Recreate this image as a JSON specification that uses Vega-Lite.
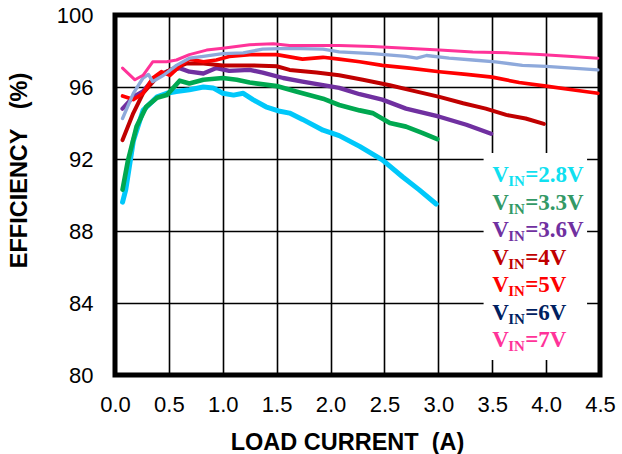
{
  "$schema": "https://vega.github.io/schema/vega-lite/v6.json",
  "width": 485,
  "height": 360,
  "autosize": "none",
  "padding": {"left": 115, "top": 15, "right": 22, "bottom": 79},
  "background": "white",
  "config": {
    "view": {"stroke": "black", "strokeWidth": 5},
    "axis": {
      "labelFont": "Liberation Sans",
      "labelFontSize": 22,
      "labelColor": "black",
      "ticks": false,
      "domain": false,
      "grid": true,
      "gridColor": "black",
      "gridWidth": 1.6,
      "gridOpacity": 1,
      "titleFont": "Liberation Sans",
      "titleFontWeight": "bold",
      "titleFontSize": 23.5,
      "titleColor": "black"
    }
  },
  "datasets": {
    "curves": [
      {"series": "2.8V", "current": 0.07, "eff": 89.6},
      {"series": "2.8V", "current": 0.10, "eff": 90.3},
      {"series": "2.8V", "current": 0.17, "eff": 93.0},
      {"series": "2.8V", "current": 0.26, "eff": 94.7},
      {"series": "2.8V", "current": 0.39, "eff": 95.45},
      {"series": "2.8V", "current": 0.48, "eff": 95.65},
      {"series": "2.8V", "current": 0.57, "eff": 95.75},
      {"series": "2.8V", "current": 0.69, "eff": 95.85},
      {"series": "2.8V", "current": 0.82, "eff": 96.0},
      {"series": "2.8V", "current": 0.91, "eff": 95.95},
      {"series": "2.8V", "current": 1.0, "eff": 95.65},
      {"series": "2.8V", "current": 1.1, "eff": 95.55},
      {"series": "2.8V", "current": 1.19, "eff": 95.65},
      {"series": "2.8V", "current": 1.28, "eff": 95.3},
      {"series": "2.8V", "current": 1.4, "eff": 94.9},
      {"series": "2.8V", "current": 1.53, "eff": 94.65},
      {"series": "2.8V", "current": 1.62, "eff": 94.55},
      {"series": "2.8V", "current": 1.74, "eff": 94.2},
      {"series": "2.8V", "current": 1.93, "eff": 93.6},
      {"series": "2.8V", "current": 2.08, "eff": 93.3},
      {"series": "2.8V", "current": 2.27, "eff": 92.7},
      {"series": "2.8V", "current": 2.48, "eff": 91.95},
      {"series": "2.8V", "current": 2.67, "eff": 91.0},
      {"series": "2.8V", "current": 2.82, "eff": 90.3},
      {"series": "2.8V", "current": 2.98, "eff": 89.5},

      {"series": "3.3V", "current": 0.07, "eff": 90.3},
      {"series": "3.3V", "current": 0.12, "eff": 91.9},
      {"series": "3.3V", "current": 0.2, "eff": 93.8},
      {"series": "3.3V", "current": 0.29, "eff": 94.9},
      {"series": "3.3V", "current": 0.39, "eff": 95.4},
      {"series": "3.3V", "current": 0.48, "eff": 95.55},
      {"series": "3.3V", "current": 0.6, "eff": 96.35},
      {"series": "3.3V", "current": 0.69, "eff": 96.2},
      {"series": "3.3V", "current": 0.82, "eff": 96.4},
      {"series": "3.3V", "current": 1.0, "eff": 96.5},
      {"series": "3.3V", "current": 1.13, "eff": 96.4},
      {"series": "3.3V", "current": 1.25, "eff": 96.25},
      {"series": "3.3V", "current": 1.5, "eff": 96.05},
      {"series": "3.3V", "current": 1.68, "eff": 95.75},
      {"series": "3.3V", "current": 1.93, "eff": 95.35},
      {"series": "3.3V", "current": 2.08, "eff": 95.0},
      {"series": "3.3V", "current": 2.27, "eff": 94.7},
      {"series": "3.3V", "current": 2.39, "eff": 94.55},
      {"series": "3.3V", "current": 2.55, "eff": 94.0},
      {"series": "3.3V", "current": 2.7, "eff": 93.8},
      {"series": "3.3V", "current": 2.85, "eff": 93.45},
      {"series": "3.3V", "current": 2.99, "eff": 93.1},

      {"series": "3.6V", "current": 0.07, "eff": 94.8},
      {"series": "3.6V", "current": 0.17, "eff": 95.45},
      {"series": "3.6V", "current": 0.26, "eff": 95.75},
      {"series": "3.6V", "current": 0.35, "eff": 96.4},
      {"series": "3.6V", "current": 0.48, "eff": 96.85},
      {"series": "3.6V", "current": 0.6, "eff": 97.05},
      {"series": "3.6V", "current": 0.69, "eff": 96.85},
      {"series": "3.6V", "current": 0.82, "eff": 96.75},
      {"series": "3.6V", "current": 0.94, "eff": 97.05},
      {"series": "3.6V", "current": 1.06, "eff": 96.9},
      {"series": "3.6V", "current": 1.25, "eff": 96.95},
      {"series": "3.6V", "current": 1.37, "eff": 96.8},
      {"series": "3.6V", "current": 1.56, "eff": 96.5},
      {"series": "3.6V", "current": 1.74, "eff": 96.3},
      {"series": "3.6V", "current": 1.93, "eff": 96.1},
      {"series": "3.6V", "current": 2.08, "eff": 95.95},
      {"series": "3.6V", "current": 2.27, "eff": 95.6},
      {"series": "3.6V", "current": 2.48, "eff": 95.3},
      {"series": "3.6V", "current": 2.7, "eff": 94.8},
      {"series": "3.6V", "current": 3.01, "eff": 94.35},
      {"series": "3.6V", "current": 3.26, "eff": 93.9},
      {"series": "3.6V", "current": 3.49, "eff": 93.4},

      {"series": "4V", "current": 0.07, "eff": 93.05},
      {"series": "4V", "current": 0.17, "eff": 94.55},
      {"series": "4V", "current": 0.26, "eff": 95.65},
      {"series": "4V", "current": 0.39, "eff": 96.55},
      {"series": "4V", "current": 0.51, "eff": 96.95},
      {"series": "4V", "current": 0.66, "eff": 97.3},
      {"series": "4V", "current": 0.82, "eff": 97.3},
      {"series": "4V", "current": 1.0, "eff": 97.2},
      {"series": "4V", "current": 1.25, "eff": 97.2},
      {"series": "4V", "current": 1.5, "eff": 97.15},
      {"series": "4V", "current": 1.62, "eff": 96.95},
      {"series": "4V", "current": 1.87, "eff": 96.8},
      {"series": "4V", "current": 2.08, "eff": 96.65},
      {"series": "4V", "current": 2.3, "eff": 96.4},
      {"series": "4V", "current": 2.55, "eff": 96.1},
      {"series": "4V", "current": 2.76, "eff": 95.8},
      {"series": "4V", "current": 3.01, "eff": 95.45},
      {"series": "4V", "current": 3.23, "eff": 95.1},
      {"series": "4V", "current": 3.44, "eff": 94.8},
      {"series": "4V", "current": 3.63, "eff": 94.45},
      {"series": "4V", "current": 3.81, "eff": 94.25},
      {"series": "4V", "current": 3.98, "eff": 93.95},

      {"series": "5V", "current": 0.07, "eff": 95.5},
      {"series": "5V", "current": 0.17, "eff": 95.3},
      {"series": "5V", "current": 0.26, "eff": 95.65},
      {"series": "5V", "current": 0.35, "eff": 96.5},
      {"series": "5V", "current": 0.43, "eff": 96.85},
      {"series": "5V", "current": 0.51, "eff": 96.65},
      {"series": "5V", "current": 0.6, "eff": 97.15},
      {"series": "5V", "current": 0.69, "eff": 97.55},
      {"series": "5V", "current": 0.82, "eff": 97.4},
      {"series": "5V", "current": 0.94, "eff": 97.5},
      {"series": "5V", "current": 1.06, "eff": 97.7},
      {"series": "5V", "current": 1.25, "eff": 97.8},
      {"series": "5V", "current": 1.5, "eff": 97.8},
      {"series": "5V", "current": 1.74, "eff": 97.55},
      {"series": "5V", "current": 1.93, "eff": 97.65},
      {"series": "5V", "current": 2.08, "eff": 97.55},
      {"series": "5V", "current": 2.27, "eff": 97.4},
      {"series": "5V", "current": 2.48, "eff": 97.2},
      {"series": "5V", "current": 2.73, "eff": 97.05},
      {"series": "5V", "current": 3.01, "eff": 96.85},
      {"series": "5V", "current": 3.26, "eff": 96.7},
      {"series": "5V", "current": 3.5, "eff": 96.55},
      {"series": "5V", "current": 3.75, "eff": 96.25},
      {"series": "5V", "current": 4.0, "eff": 96.05},
      {"series": "5V", "current": 4.24, "eff": 95.85},
      {"series": "5V", "current": 4.48, "eff": 95.65},

      {"series": "6V", "current": 0.07, "eff": 94.25},
      {"series": "6V", "current": 0.17, "eff": 95.65},
      {"series": "6V", "current": 0.26, "eff": 96.5},
      {"series": "6V", "current": 0.31, "eff": 96.7},
      {"series": "6V", "current": 0.35, "eff": 96.3},
      {"series": "6V", "current": 0.45, "eff": 96.65},
      {"series": "6V", "current": 0.57, "eff": 97.2},
      {"series": "6V", "current": 0.69, "eff": 97.6},
      {"series": "6V", "current": 0.82, "eff": 97.7},
      {"series": "6V", "current": 1.0, "eff": 97.85},
      {"series": "6V", "current": 1.19, "eff": 97.9},
      {"series": "6V", "current": 1.37, "eff": 98.1},
      {"series": "6V", "current": 1.62, "eff": 98.15},
      {"series": "6V", "current": 1.93, "eff": 98.1},
      {"series": "6V", "current": 2.08, "eff": 97.95},
      {"series": "6V", "current": 2.39, "eff": 97.85},
      {"series": "6V", "current": 2.7, "eff": 97.7},
      {"series": "6V", "current": 2.8, "eff": 97.6},
      {"series": "6V", "current": 2.89, "eff": 97.75},
      {"series": "6V", "current": 3.1, "eff": 97.6},
      {"series": "6V", "current": 3.32, "eff": 97.5},
      {"series": "6V", "current": 3.53, "eff": 97.4},
      {"series": "6V", "current": 3.78, "eff": 97.2},
      {"series": "6V", "current": 4.0, "eff": 97.15},
      {"series": "6V", "current": 4.24, "eff": 97.05},
      {"series": "6V", "current": 4.48, "eff": 96.95},

      {"series": "7V", "current": 0.07, "eff": 97.05},
      {"series": "7V", "current": 0.185, "eff": 96.4},
      {"series": "7V", "current": 0.26, "eff": 96.65},
      {"series": "7V", "current": 0.35, "eff": 97.4},
      {"series": "7V", "current": 0.48, "eff": 97.4},
      {"series": "7V", "current": 0.57, "eff": 97.5},
      {"series": "7V", "current": 0.69, "eff": 97.8},
      {"series": "7V", "current": 0.85, "eff": 98.05},
      {"series": "7V", "current": 1.0, "eff": 98.15},
      {"series": "7V", "current": 1.25, "eff": 98.35},
      {"series": "7V", "current": 1.47, "eff": 98.4},
      {"series": "7V", "current": 1.62, "eff": 98.3},
      {"series": "7V", "current": 1.93, "eff": 98.3},
      {"series": "7V", "current": 2.08, "eff": 98.3},
      {"series": "7V", "current": 2.39, "eff": 98.25},
      {"series": "7V", "current": 2.7, "eff": 98.15},
      {"series": "7V", "current": 3.01, "eff": 98.05},
      {"series": "7V", "current": 3.32, "eff": 97.95},
      {"series": "7V", "current": 3.63, "eff": 97.9},
      {"series": "7V", "current": 3.94, "eff": 97.8},
      {"series": "7V", "current": 4.24, "eff": 97.7},
      {"series": "7V", "current": 4.48, "eff": 97.6}
    ],
    "legendRows": [
      {"series": "2.8V", "rest": "=2.8V"},
      {"series": "3.3V", "rest": "=3.3V"},
      {"series": "3.6V", "rest": "=3.6V"},
      {"series": "4V", "rest": "=4V"},
      {"series": "5V", "rest": "=5V"},
      {"series": "6V", "rest": "=6V"},
      {"series": "7V", "rest": "=7V"}
    ]
  },
  "layer": [
    {
      "encoding": {
        "x": {
          "type": "quantitative",
          "scale": {"domain": [0, 4.5], "nice": false, "zero": false},
          "axis": {
            "title": "LOAD CURRENT \u00a0(A)",
            "grid": true,
            "values": [0, 0.5, 1, 1.5, 2, 2.5, 3, 3.5, 4, 4.5],
            "format": ".1f",
            "labelPadding": 19,
            "labelFlush": false,
            "titleX": 232,
            "titleY": 74,
            "titleBaseline": "alphabetic",
            "titleAlign": "center"
          }
        },
        "y": {
          "type": "quantitative",
          "scale": {"domain": [80, 100], "nice": false, "zero": false},
          "axis": {
            "title": "EFFICIENCY \u00a0\u00a0(%)",
            "grid": true,
            "values": [80, 84, 88, 92, 96, 100],
            "labelPadding": 22,
            "labelFlush": false,
            "titleAngle": -90,
            "titleX": -96,
            "titleY": 155,
            "titleAlign": "center",
            "titleBaseline": "middle"
          }
        }
      },
      "layer": [
        {
          "data": {"values": [{}]},
          "mark": {"type": "rect", "fill": "white"},
          "encoding": {
            "x": {"datum": 3.42, "type": "quantitative"},
            "x2": {"datum": 4.38},
            "y": {"datum": 92.33, "type": "quantitative"},
            "y2": {"datum": 80.83}
          }
        },
        {
          "data": {"name": "curves"},
          "mark": {"type": "line", "strokeJoin": "round", "strokeCap": "round", "clip": true},
          "encoding": {
            "x": {"field": "current", "type": "quantitative"},
            "y": {"field": "eff", "type": "quantitative"},
            "color": {
              "field": "series",
              "type": "nominal",
              "scale": {
                "domain": ["2.8V", "3.3V", "3.6V", "4V", "5V", "6V", "7V"],
                "range": ["#00C8FA", "#00A850", "#7030A0", "#C00000", "#FF0000", "#8EA9DB", "#FF3399"]
              },
              "legend": null
            },
            "strokeWidth": {
              "field": "series",
              "type": "nominal",
              "scale": {
                "domain": ["2.8V", "3.3V", "3.6V", "4V", "5V", "6V", "7V"],
                "range": [5, 3, 3, 3, 3, 3, 3]
              },
              "legend": null
            }
          }
        }
      ]
    },
    {
      "data": {"name": "legendRows"},
      "encoding": {
        "x": {"datum": 3.5, "type": "quantitative"},
        "y": {
          "field": "series",
          "type": "ordinal",
          "scale": {
            "type": "point",
            "domain": ["2.8V", "3.3V", "3.6V", "4V", "5V", "6V", "7V"],
            "range": [167, 332],
            "padding": 0
          },
          "axis": null
        },
        "color": {
          "field": "series",
          "type": "nominal",
          "scale": {
            "domain": ["2.8V", "3.3V", "3.6V", "4V", "5V", "6V", "7V"],
            "range": ["#10E0F0", "#339966", "#7030A0", "#C00000", "#FF0000", "#002060", "#FF3399"]
          },
          "legend": null
        }
      },
      "layer": [
        {
          "mark": {"type": "text", "text": "V", "font": "Liberation Serif", "fontWeight": "bold", "fontSize": 23, "align": "left", "baseline": "alphabetic"}
        },
        {
          "mark": {"type": "text", "text": "IN", "font": "Liberation Serif", "fontWeight": "bold", "fontSize": 15, "align": "left", "baseline": "alphabetic", "dx": 16, "dy": 4}
        },
        {
          "mark": {"type": "text", "font": "Liberation Serif", "fontWeight": "bold", "fontSize": 23, "align": "left", "baseline": "alphabetic", "dx": 33},
          "encoding": {"text": {"field": "rest", "type": "nominal"}}
        }
      ]
    }
  ],
  "resolve": {"scale": {"y": "independent", "color": "independent"}}
}
